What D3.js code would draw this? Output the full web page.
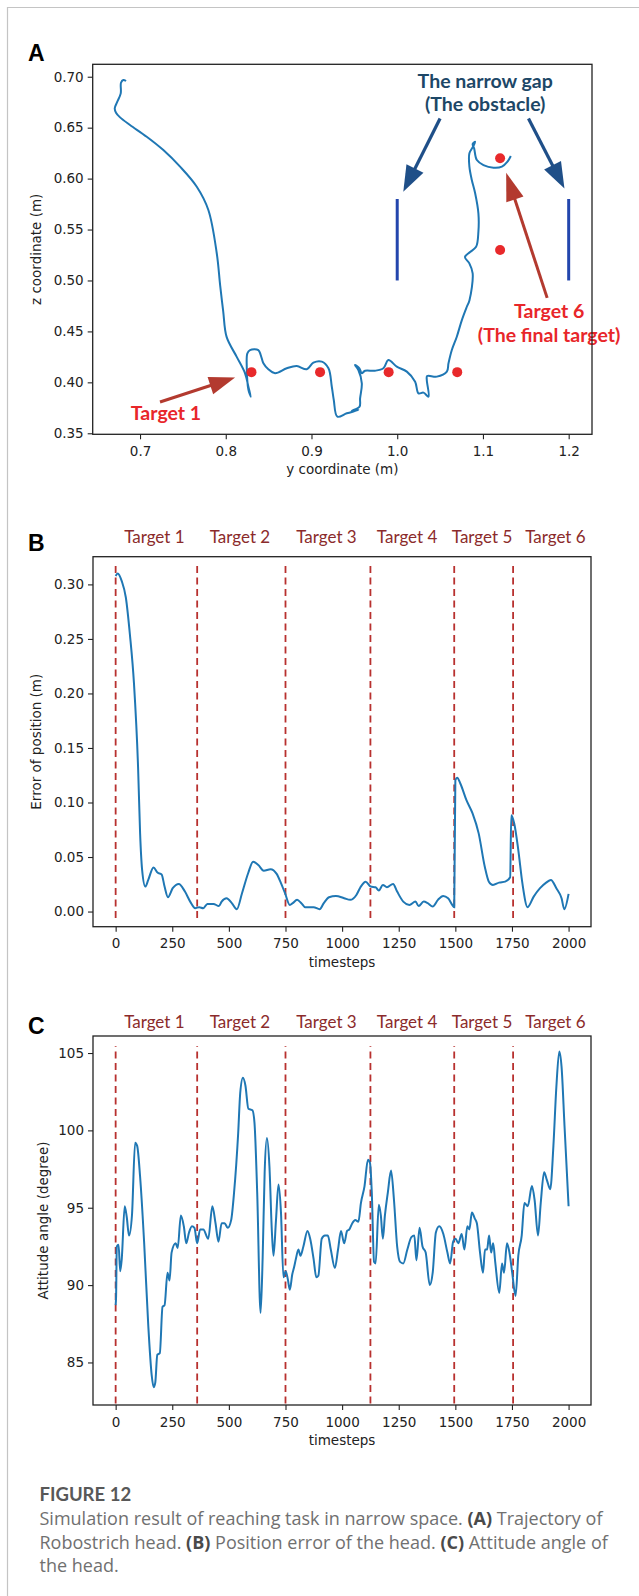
<!DOCTYPE html>
<html>
<head>
<meta charset="utf-8">
<script src="https://cdn.jsdelivr.net/npm/d3@7"></script>
<style>
  body { margin: 0; background: #fff; }
  svg { display: block; background: #fff; }
</style>
</head>
<body>
<div id="container"></div>
<script>
// ---------- panel A : trajectory of the head (y, z) ----------
let trajY = [0.6837, 0.6805, 0.6778, 0.6775, 0.6735, 0.6705, 0.6720, 0.6767, 0.6883, 0.7078,
  0.7272, 0.7467, 0.7662, 0.7797, 0.7895, 0.7935, 0.7970, 0.8010, 0.8128, 0.8225,
  0.8264, 0.8292, 0.8264, 0.8245, 0.8252, 0.8283, 0.8380, 0.8408, 0.8439, 0.8497,
  0.8575, 0.8712, 0.8828, 0.8945, 0.9022, 0.9120, 0.9198, 0.9237, 0.9260, 0.9302,
  0.9412, 0.9547, 0.9470, 0.9560, 0.9567, 0.9587, 0.9547, 0.9508, 0.9559, 0.9586,
  0.9625, 0.9740, 0.9839, 0.9897, 0.9995, 1.0112, 1.0209, 1.0248, 1.0306, 1.0365,
  1.0345, 1.0349, 1.0462, 1.0579, 1.0598, 1.0637, 1.0695, 1.0754, 1.0812, 1.0843,
  1.0880, 1.0840, 1.0790, 1.0850, 1.0920, 1.0947, 1.0947, 1.0909, 1.0870, 1.0842,
  1.0842, 1.0889, 1.0909, 1.0880, 1.0897, 1.0929, 1.1006, 1.1123, 1.1221, 1.1286, 1.1325]
let trajZ = [0.6958, 0.6968, 0.6941, 0.6837, 0.6755, 0.6690, 0.6647, 0.6601, 0.6526, 0.6411,
  0.6280, 0.6117, 0.5920, 0.5692, 0.5267, 0.4950, 0.4700, 0.4446, 0.4250, 0.4089,
  0.3957, 0.3859, 0.3930, 0.4154, 0.4285, 0.4317, 0.4317, 0.4268, 0.4187, 0.4128,
  0.4089, 0.4138, 0.4160, 0.4128, 0.4193, 0.4203, 0.4138, 0.3957, 0.3827, 0.3663,
  0.3696, 0.3729, 0.3720, 0.3760, 0.3843, 0.3990, 0.4121, 0.4170, 0.4138, 0.4090,
  0.4114, 0.4114, 0.4138, 0.4219, 0.4154, 0.4105, 0.4006, 0.3892, 0.3899, 0.3859,
  0.4023, 0.4062, 0.4056, 0.4105, 0.4187, 0.4317, 0.4448, 0.4611, 0.4742, 0.4807,
  0.5070, 0.5170, 0.5230, 0.5280, 0.5330, 0.5480, 0.5659, 0.5856, 0.5986, 0.6117,
  0.6248, 0.6320, 0.6362, 0.6340, 0.6297, 0.6182, 0.6133, 0.6107, 0.6117, 0.6166, 0.6222]
let targetY = [0.83, 0.91, 0.99, 1.07, 1.12, 1.12]
let targetZ = [0.41, 0.41, 0.41, 0.41, 0.53, 0.62]
let wallY = [1.0, 1.2]
let wallZ = [0.50, 0.58]
let xTicksA = [0.7, 0.8, 0.9, 1.0, 1.1, 1.2]
let yTicksA = [0.35, 0.40, 0.45, 0.50, 0.55, 0.60, 0.65, 0.70]

// ---------- panel B : position error ----------
let errT = [0, 9, 27, 45, 63, 81, 99, 108, 117, 131, 144, 167, 185, 203, 216, 231, 252, 279, 306, 333,
  351, 369, 387, 405, 432, 456, 468, 490, 513, 535, 558, 585, 607, 630, 654, 684, 711, 730, 748, 769,
  782, 801, 820, 837, 874, 901, 919, 942, 973, 1009, 1036, 1063, 1081, 1104, 1126, 1148, 1162, 1180, 1198, 1225,
  1243, 1270, 1297, 1324, 1338, 1360, 1378, 1400, 1423, 1446, 1468, 1486, 1495, 1500, 1508, 1522, 1549, 1576, 1603, 1630,
  1648, 1666, 1693, 1720, 1742, 1747, 1760, 1778, 1796, 1819, 1846, 1874, 1901, 1922, 1946, 1969, 1981, 2000]
let errV = [0.3077, 0.310, 0.303, 0.288, 0.254, 0.209, 0.1325, 0.0717, 0.038, 0.0229, 0.029, 0.0405, 0.0357, 0.034, 0.0229, 0.0131, 0.0214, 0.0253, 0.0183, 0.0077,
  0.0031, 0.0040, 0.003, 0.007, 0.007, 0.005, 0.0091, 0.0122, 0.0077, 0.0021, 0.0168, 0.0351, 0.0457, 0.0427, 0.0375, 0.0388, 0.0345, 0.026, 0.0168, 0.0061,
  0.0077, 0.0107, 0.0077, 0.004, 0.004, 0.0021, 0.0077, 0.0131, 0.0143, 0.0122, 0.0107, 0.0152, 0.0223, 0.0274, 0.0229, 0.0223, 0.0192, 0.0244, 0.0223, 0.0253,
  0.0183, 0.0091, 0.0061, 0.0091, 0.005, 0.0091, 0.0077, 0.0046, 0.0107, 0.0143, 0.0122, 0.0061, 0.004, 0.1204, 0.1228, 0.1174, 0.1021, 0.090, 0.0717, 0.0411,
  0.0274, 0.0244, 0.0265, 0.0274, 0.0314, 0.0884, 0.0808, 0.0564, 0.026, 0.004, 0.0137, 0.0214, 0.0265, 0.029, 0.0214, 0.0122, 0.0021, 0.0162]
let errTicks = [0.00, 0.05, 0.10, 0.15, 0.20, 0.25, 0.30]

// ---------- panel C : attitude angle ----------
let angT = [0, 2, 5, 13, 20, 27, 40, 49, 59, 72, 86, 95, 108, 126, 144, 159, 168, 175, 184, 195,
  207, 216, 229, 238, 247, 265, 274, 288, 301, 312, 324, 337, 348, 360, 373, 387, 409, 427, 441, 454,
  468, 481, 495, 510, 523, 541, 550, 562, 573, 586, 604, 613, 625, 640, 649, 658, 668, 679, 690, 697,
  708, 719, 730, 741, 751, 760, 769, 780, 787, 796, 807, 816, 829, 847, 859, 874, 886, 895, 910, 924,
  937, 950, 968, 982, 995, 1009, 1022, 1032, 1045, 1058, 1072, 1083, 1099, 1114, 1123, 1131, 1141, 1148, 1162, 1171,
  1180, 1189, 1202, 1216, 1229, 1243, 1256, 1270, 1288, 1306, 1319, 1328, 1342, 1355, 1369, 1387, 1400, 1414, 1429, 1447,
  1465, 1477, 1490, 1501, 1513, 1528, 1540, 1553, 1562, 1573, 1586, 1595, 1609, 1622, 1631, 1640, 1649, 1658, 1667, 1676,
  1694, 1706, 1715, 1728, 1739, 1751, 1766, 1778, 1793, 1805, 1820, 1838, 1850, 1865, 1877, 1892, 1904, 1919, 1933, 1946,
  1959, 1969, 1982, 2000]
let angV = [88.7, 89.3, 92.5, 92.6, 90.9, 91.7, 95.1, 94.4, 93.2, 94.5, 99.2, 99.0, 97.0, 92.7, 87.4, 84.2, 83.4, 83.7, 85.5, 85.6,
  88.6, 88.7, 90.8, 90.3, 92.1, 92.7, 92.4, 94.5, 93.8, 92.7, 93.4, 93.8, 93.7, 92.7, 93.6, 93.6, 93.0, 95.1, 94.0, 92.8,
  94.0, 94.0, 93.7, 94.2, 96.0, 99.8, 102.4, 103.4, 102.9, 101.4, 101.3, 100.5, 96.0, 88.2, 91.7, 97.3, 99.5, 97.7, 93.4, 91.9,
  94.2, 96.5, 94.7, 90.5, 90.9, 90.4, 89.7, 90.7, 91.1, 91.7, 92.3, 91.9, 92.5, 93.5, 93.0, 91.7, 90.5, 90.6, 93.0, 93.2,
  93.2, 92.3, 91.1, 92.3, 93.5, 92.7, 93.5, 93.6, 94.0, 94.2, 94.1, 95.3, 96.4, 98.1, 97.9, 96.0, 91.5, 91.4, 95.2, 94.5,
  93.0, 94.5, 96.0, 97.4, 95.5, 92.5, 91.5, 91.4, 92.3, 93.1, 93.2, 91.6, 93.7, 92.5, 92.1, 90.0, 90.8, 93.4, 93.8, 93.3,
  92.1, 91.4, 92.8, 93.0, 92.7, 93.3, 92.3, 93.8, 93.6, 94.7, 94.3, 94.0, 92.1, 90.8, 92.3, 92.3, 93.2, 92.1, 92.7, 91.5,
  89.5, 91.4, 90.8, 92.7, 92.1, 90.8, 89.3, 91.9, 93.2, 95.3, 95.1, 96.4, 95.5, 93.2, 95.3, 97.3, 96.8, 96.2, 99.0, 102.8,
  105.1, 104.1, 100.3, 95.1]
let angTicks = [85, 90, 95, 100, 105]

// ---------- shared ----------
let timeTicks = [0, 250, 500, 750, 1000, 1250, 1500, 1750, 2000]
let targetStart = [0, 360, 750, 1125, 1495, 1755]
let targetNames = ['Target 1', 'Target 2', 'Target 3', 'Target 4', 'Target 5', 'Target 6']
let targetLabelT = [171, 549, 931, 1287, 1618, 1942]

let width = 639, height = 1596
let blue = '#1f77b4', dashRed = '#b8312f'
let mplFont = "'DejaVu Sans', sans-serif"
let annoFont = "Lato, 'Open Sans', sans-serif"

let svg = d3.select('#container').append('svg')
  .attr('width', width)
  .attr('height', height)

// page frame (left + top)
svg.append('line').attr('x1', 7.5).attr('y1', 7).attr('x2', 7.5).attr('y2', height)
  .attr('stroke', '#c4c4c4').attr('stroke-width', 1.2)
svg.append('line').attr('x1', 7).attr('y1', 7.5).attr('x2', width).attr('y2', 7.5)
  .attr('stroke', '#c4c4c4').attr('stroke-width', 1.2)

function styleAxis (a) {
  a.select('.domain').remove()
  a.selectAll('.tick line').attr('stroke', '#222').attr('stroke-width', 1.1)
  a.selectAll('.tick text').attr('font-family', mplFont).attr('font-size', 13.5).attr('fill', '#222')
}

function axisLabel (g, x, y, rotate, txt) {
  g.append('text')
    .attr('transform', 'translate(' + x + ',' + y + ')' + (rotate ? ' rotate(-90)' : ''))
    .attr('text-anchor', 'middle')
    .attr('font-family', mplFont).attr('font-size', 13.5).attr('fill', '#222')
    .text(txt)
}

function panelLetter (g, y, txt) {
  g.append('text').attr('x', 28).attr('y', y)
    .attr('font-family', "'Liberation Sans', Arial, sans-serif").attr('font-weight', 'bold')
    .attr('font-size', 23).attr('fill', '#000').text(txt)
}

function drawArrow (g, x1, y1, x2, y2, color, headLen, headW, shaftW) {
  let dx = x2 - x1, dy = y2 - y1, len = Math.sqrt(dx * dx + dy * dy)
  let ux = dx / len, uy = dy / len
  let bx = x2 - ux * headLen, by = y2 - uy * headLen
  g.append('line').attr('x1', x1).attr('y1', y1).attr('x2', bx + ux).attr('y2', by + uy)
    .attr('stroke', color).attr('stroke-width', shaftW)
  g.append('path')
    .attr('d', 'M' + x2 + ',' + y2 + 'L' + (bx - uy * headW / 2) + ',' + (by + ux * headW / 2) +
      'L' + (bx + uy * headW / 2) + ',' + (by - ux * headW / 2) + 'Z')
    .attr('fill', color)
}

function annoText (g, x, y, color, txt) {
  g.append('text').attr('x', x).attr('y', y)
    .attr('text-anchor', 'middle').attr('font-family', annoFont).attr('font-weight', 'bold')
    .attr('font-size', 19.5).attr('fill', color).text(txt)
}

function frameAxes (g, left, top, right, bottom) {
  g.append('rect')
    .attr('x', left).attr('y', top)
    .attr('width', right - left).attr('height', bottom - top)
    .attr('fill', 'none').attr('stroke', '#222').attr('stroke-width', 1.3)
}

// ================= panel A =================
let A = { left: 92.7, top: 64.3, right: 592, bottom: 434.3 }
let xA = d3.scaleLinear().domain([0.6448, 1.2272]).range([A.left, A.right])
let yA = d3.scaleLinear().domain([0.349, 0.7122]).range([A.bottom, A.top])
let gA = svg.append('g')

panelLetter(gA, 61, 'A')

gA.append('g').attr('transform', 'translate(0,' + A.bottom + ')')
  .call(d3.axisBottom(xA).tickValues(xTicksA).tickFormat(d3.format('.1f')).tickSize(5).tickPadding(7))
  .call(styleAxis)
gA.append('g').attr('transform', 'translate(' + A.left + ',0)')
  .call(d3.axisLeft(yA).tickValues(yTicksA).tickFormat(d3.format('.2f')).tickSize(5).tickPadding(4))
  .call(styleAxis)

axisLabel(gA, (A.left + A.right) / 2, A.bottom + 40, false, 'y coordinate (m)')
axisLabel(gA, 41, (A.top + A.bottom) / 2, true, 'z coordinate (m)')

// obstacle walls
wallY.forEach(wy => {
  gA.append('line')
    .attr('x1', xA(wy)).attr('x2', xA(wy))
    .attr('y1', yA(wallZ[0])).attr('y2', yA(wallZ[1]))
    .attr('stroke', '#2346ad').attr('stroke-width', 3)
})

let traj = trajY.map((v, i) => [v, trajZ[i]])
let lineA = d3.line()
  .x(d => xA(d[0]))
  .y(d => yA(d[1]))
  .curve(d3.curveCatmullRom.alpha(0.5))
gA.append('path').attr('d', lineA(traj))
  .attr('fill', 'none').attr('stroke', blue).attr('stroke-width', 2)

gA.selectAll('circle.tg').data(targetY).enter().append('circle')
  .attr('class', 'tg')
  .attr('cx', d => xA(d))
  .attr('cy', (d, i) => yA(targetZ[i]))
  .attr('r', 5)
  .attr('fill', '#e8292b')

// annotations
annoText(gA, xA(1.1026), yA(0.6886), '#1d4767', 'The narrow gap')
annoText(gA, xA(1.1026), yA(0.6666), '#1d4767', '(The obstacle)')
drawArrow(gA, xA(1.050), yA(0.659), xA(1.0071), yA(0.587), '#1f4f88', 26, 19, 3.2)
drawArrow(gA, xA(1.1531), yA(0.659), xA(1.1951), yA(0.5904), '#1f4f88', 26, 19, 3.2)

drawArrow(gA, xA(1.1749), yA(0.4829), xA(1.1271), yA(0.6057), '#b33a2f', 28, 18, 3)
annoText(gA, xA(1.1772), yA(0.4627), '#e8262a', 'Target 6')
annoText(gA, xA(1.1772), yA(0.4397), '#e8262a', '(The final target)')

drawArrow(gA, xA(0.7233), yA(0.3807), xA(0.8109), yA(0.4047), '#b33a2f', 26, 18, 3)
annoText(gA, xA(0.7303), yA(0.3635), '#e8262a', 'Target 1')

frameAxes(gA, A.left, A.top, A.right, A.bottom)

// ================= panels B and C =================
function timePanel (box, letter, letterY, labelY, yDomain, yTicks, yFmt, ylab, ylabX, tVals, vVals, dashRange) {
  let x = d3.scaleLinear().domain([-100, 2099]).range([box.left, box.right])
  let y = d3.scaleLinear().domain(yDomain).range([box.bottom, box.top])
  let g = svg.append('g')

  panelLetter(g, letterY, letter)

  g.selectAll('text.tl').data(targetNames).enter().append('text')
    .attr('class', 'tl')
    .attr('x', (d, i) => x(targetLabelT[i]))
    .attr('y', labelY)
    .attr('text-anchor', 'middle')
    .attr('font-family', annoFont).attr('font-size', 17).attr('fill', '#8b2b2b')
    .text(d => d)

  g.append('g').attr('transform', 'translate(0,' + box.bottom + ')')
    .call(d3.axisBottom(x).tickValues(timeTicks).tickFormat(d3.format('d')).tickSize(5).tickPadding(7))
    .call(styleAxis)
  g.append('g').attr('transform', 'translate(' + box.left + ',0)')
    .call(d3.axisLeft(y).tickValues(yTicks).tickFormat(yFmt).tickSize(5).tickPadding(4))
    .call(styleAxis)

  axisLabel(g, (box.left + box.right) / 2, box.bottom + 40, false, 'timesteps')
  axisLabel(g, ylabX, (box.top + box.bottom) / 2, true, ylab)

  g.selectAll('line.bound').data(targetStart).enter().append('line')
    .attr('class', 'bound')
    .attr('x1', d => x(d)).attr('x2', d => x(d))
    .attr('y1', y(dashRange[0])).attr('y2', y(dashRange[1]))
    .attr('stroke', dashRed).attr('stroke-width', 1.8)
    .attr('stroke-dasharray', '7,4.5')

  let pts = tVals.map((t, i) => [t, vVals[i]])
  let line = d3.line()
    .x(d => x(d[0]))
    .y(d => y(d[1]))
    .curve(d3.curveMonotoneX)
  g.append('path').attr('d', line(pts))
    .attr('fill', 'none').attr('stroke', blue).attr('stroke-width', 2)

  frameAxes(g, box.left, box.top, box.right, box.bottom)
}

timePanel({ left: 93, top: 556.7, right: 591, bottom: 926.7 }, 'B', 551, 543.3,
  [-0.0139, 0.3254], errTicks, d3.format('.2f'), 'Error of position (m)', 41, errT, errV, [-0.006, 0.321])

timePanel({ left: 93, top: 1036, right: 591, bottom: 1405 }, 'C', 1034, 1028.3,
  [82.25, 106.1], angTicks, d3.format('d'), 'Attitude angle (degree)', 48, angT, angV, [82.35, 105.43])

// ================= caption =================
let cap = svg.append('g')
cap.append('text').attr('x', 39.5).attr('y', 1501)
  .attr('font-family', annoFont).attr('font-size', 18.5)
  .attr('font-weight', 'bold').attr('fill', '#585858').text('FIGURE 12')
let capLines = [
  [['Simulation result of reaching task in narrow space. ', 0], ['(A)', 1], [' Trajectory of', 0]],
  [['Robostrich head. ', 0], ['(B)', 1], [' Position error of the head. ', 0], ['(C)', 1], [' Attitude angle of', 0]],
  [['the head.', 0]]
]
capLines.forEach((parts, i) => {
  let t = cap.append('text').attr('x', 39.5).attr('y', 1525 + i * 23.7)
    .attr('font-family', "'Open Sans', Lato, sans-serif")
    .attr('font-size', 18).attr('fill', '#707070')
  parts.forEach(p => {
    t.append('tspan').attr('font-weight', p[1] ? 'bold' : 'normal')
      .attr('fill', p[1] ? '#4a4a4a' : '#707070').text(p[0])
  })
})
</script>
</body>
</html>
